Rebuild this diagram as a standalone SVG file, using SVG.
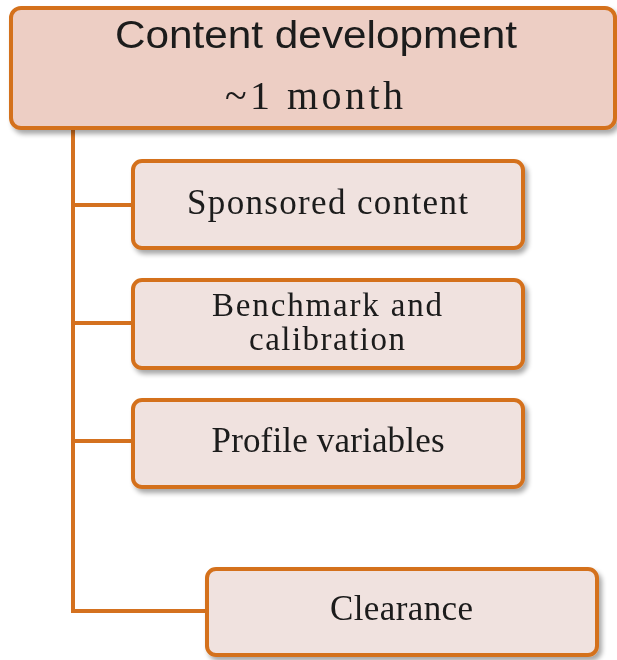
<svg xmlns="http://www.w3.org/2000/svg" width="617" height="660" viewBox="0 0 617 660">
<defs>
<filter id="sh" x="-5%" y="-10%" width="115%" height="130%">
<feGaussianBlur in="SourceAlpha" stdDeviation="2.5"/>
<feOffset dx="3" dy="4" result="b"/>
<feComponentTransfer><feFuncA type="linear" slope="0.35"/></feComponentTransfer>
<feMerge><feMergeNode/><feMergeNode in="SourceGraphic"/></feMerge>
</filter>
<style>
.box{stroke:#D4711F;stroke-width:4;}
.top{fill:#EDCEC4;}
.child{fill:#F0E2DF;}
.conn{stroke:#D4711F;stroke-width:4;fill:none;}
.sans{font-family:"Liberation Sans",Arial,sans-serif;font-size:38px;fill:#1a1a1a;text-anchor:middle;}
.serif{font-family:"Liberation Serif","Times New Roman",serif;font-size:35px;fill:#1a1a1a;text-anchor:middle;}
.sm{font-size:33px;}
</style>
</defs>
<g id="connectors">
<path class="conn" d="M73 128 V611 H207"/>
<path class="conn" d="M73 205 H133"/>
<path class="conn" d="M73 323 H133"/>
<path class="conn" d="M73 441 H133"/>
</g>
<g id="root" filter="url(#sh)">
<rect class="box top" x="11" y="8" width="604" height="120" rx="10"/>
<text class="sans" x="316" y="48" textLength="402" lengthAdjust="spacingAndGlyphs">Content development</text>
<text class="serif" x="314" y="109" style="font-size:40px" textLength="178" lengthAdjust="spacing">~1 month</text>
</g>
<g id="sponsored" filter="url(#sh)">
<rect class="box child" x="133" y="161" width="390" height="87" rx="9"/>
<text class="serif" x="327.5" y="214" textLength="281" lengthAdjust="spacing">Sponsored content</text>
</g>
<g id="benchmark" filter="url(#sh)">
<rect class="box child" x="133" y="280" width="390" height="88" rx="9"/>
<text class="serif sm" x="327" y="316" textLength="230" lengthAdjust="spacing">Benchmark and</text>
<text class="serif sm" x="327" y="350" textLength="156" lengthAdjust="spacing">calibration</text>
</g>
<g id="profile" filter="url(#sh)">
<rect class="box child" x="133" y="400" width="390" height="87" rx="9"/>
<text class="serif" x="328" y="452" textLength="233" lengthAdjust="spacing">Profile variables</text>
</g>
<g id="clearance" filter="url(#sh)">
<rect class="box child" x="207" y="569" width="390" height="86" rx="9"/>
<text class="serif" x="401.5" y="620" textLength="143" lengthAdjust="spacing">Clearance</text>
</g>
</svg>
